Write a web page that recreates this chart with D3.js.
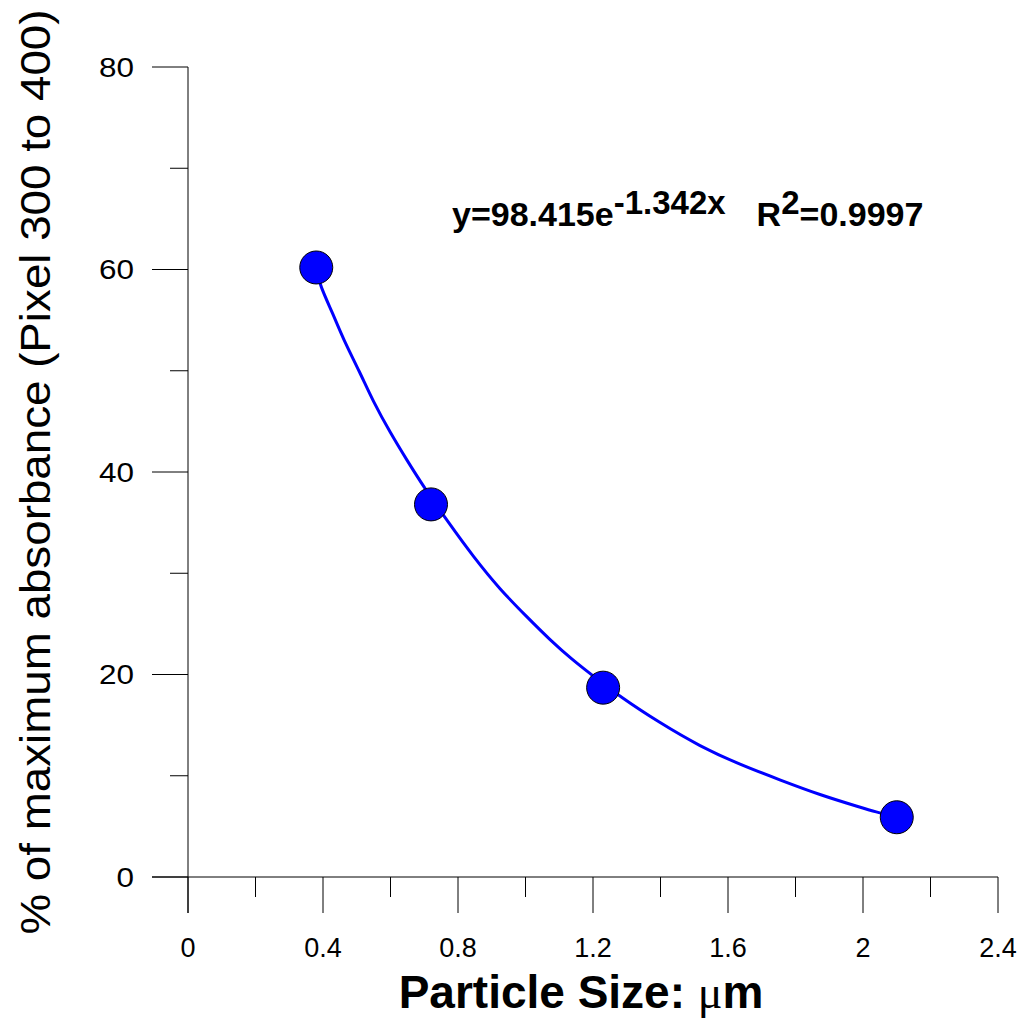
<!DOCTYPE html>
<html><head><meta charset="utf-8">
<script src="https://cdn.jsdelivr.net/npm/d3@7"></script>
<style>body{margin:0;background:#fff}svg{display:block}text{font-family:"Liberation Sans",Arial,sans-serif}</style>
</head><body>
<script>
const pointX = [0.38, 0.72, 1.23, 2.1];
const pointY = [60.2, 36.8, 18.7, 5.9];
const curveX = [0.379, 0.391, 0.430, 0.459, 0.510, 0.548, 0.599, 0.650, 0.697, 0.776, 0.844, 0.924, 1.004, 1.073, 1.141, 1.191, 1.280, 1.399, 1.517, 1.636, 1.753, 1.873, 1.991, 2.041, 2.08];
const curveY = [60.2, 58.4, 55.6, 53.2, 49.8, 47.0, 43.9, 41.1, 38.6, 34.8, 31.7, 28.4, 25.7, 23.4, 21.4, 20.1, 17.8, 15.2, 12.9, 11.1, 9.6, 8.1, 6.9, 6.4, 6.1];
const xMajor = [0, 0.4, 0.8, 1.2, 1.6, 2, 2.4];
const xMinor = [0.2, 0.6, 1.0, 1.4, 1.8, 2.2];
const yMajor = [0, 20, 40, 60, 80];
const yMinor = [10, 30, 50, 70];
const xLabel = "Particle Size: ";
const yLabel = "% of maximum absorbance (Pixel 300 to 400)";

const W = 1026, H = 1020;
const svg = d3.select("body").append("svg").attr("width", W).attr("height", H);
const x = d3.scaleLinear().domain([0, 2.4]).range([188, 998]);
const y = d3.scaleLinear().domain([0, 80]).range([877, 67]);

const g = svg.append("g");
g.append("line").attr("x1", 152).attr("x2", x(2.4)).attr("y1", y(0)).attr("y2", y(0)).attr("stroke", "#000").attr("stroke-width", 1);
g.append("line").attr("x1", x(0)).attr("x2", x(0)).attr("y1", y(80)).attr("y2", 913).attr("stroke", "#000").attr("stroke-width", 1);

g.selectAll(".xM").data(xMajor).join("line").attr("x1", d => x(d)).attr("x2", d => x(d)).attr("y1", y(0)).attr("y2", 913).attr("stroke", "#000");
g.selectAll(".xm").data(xMinor).join("line").attr("x1", d => x(d)).attr("x2", d => x(d)).attr("y1", y(0)).attr("y2", 897).attr("stroke", "#000");
g.selectAll(".xl").data(xMajor).join("text").attr("x", d => x(d)).attr("y", 957).attr("text-anchor", "middle").attr("font-size", 27).text(d => d3.format("~g")(d));

g.selectAll(".yM").data(yMajor).join("line").attr("x1", 152).attr("x2", x(0)).attr("y1", d => y(d)).attr("y2", d => y(d)).attr("stroke", "#000");
g.selectAll(".ym").data(yMinor).join("line").attr("x1", 170).attr("x2", x(0)).attr("y1", d => y(d)).attr("y2", d => y(d)).attr("stroke", "#000");
g.selectAll(".yl").data(yMajor).join("text").attr("x", 134).attr("y", d => y(d)).attr("dy", "0.35em").attr("text-anchor", "end").attr("font-size", 28).attr("textLength", d => String(d).length * 17.5).attr("lengthAdjust", "spacingAndGlyphs").text(d => d);

const curvePts = curveX.map((d, i) => [d, curveY[i]]);
g.append("path").datum(curvePts)
  .attr("d", d3.line().x(d => x(d[0])).y(d => y(d[1])).curve(d3.curveBasis))
  .attr("fill", "none").attr("stroke", "#0000ff").attr("stroke-width", 3);

g.selectAll(".pt").data(pointX.map((d, i) => [d, pointY[i]])).join("circle")
  .attr("cx", d => x(d[0])).attr("cy", d => y(d[1])).attr("r", 16.5)
  .attr("fill", "#0000ff").attr("stroke", "#000").attr("stroke-width", 1);

const ann = g.append("text").attr("x", 452).attr("y", 226).attr("font-size", 34).attr("font-weight", "bold");
ann.append("tspan").text("y=98.415e");
ann.append("tspan").attr("dy", -12).attr("font-size", 33).text("-1.342x");
ann.append("tspan").attr("dy", 12).attr("dx", 31).text("R");
ann.append("tspan").attr("dy", -12).attr("font-size", 33).text("2");
ann.append("tspan").attr("dy", 12).text("=0.9997");

const xt = svg.append("text").attr("x", 581).attr("y", 1008).attr("text-anchor", "middle").attr("font-size", 46).attr("font-weight", "bold");
xt.append("tspan").text(xLabel);
xt.append("tspan").attr("font-family", "Liberation Serif, serif").attr("font-weight", "normal").text("\u03bc");
xt.append("tspan").text("m");

svg.append("text").attr("transform", "translate(50,472) rotate(-90)").attr("text-anchor", "middle").attr("font-size", 42)
  .attr("textLength", 925).attr("lengthAdjust", "spacingAndGlyphs").text(yLabel);
</script>
</body></html>
